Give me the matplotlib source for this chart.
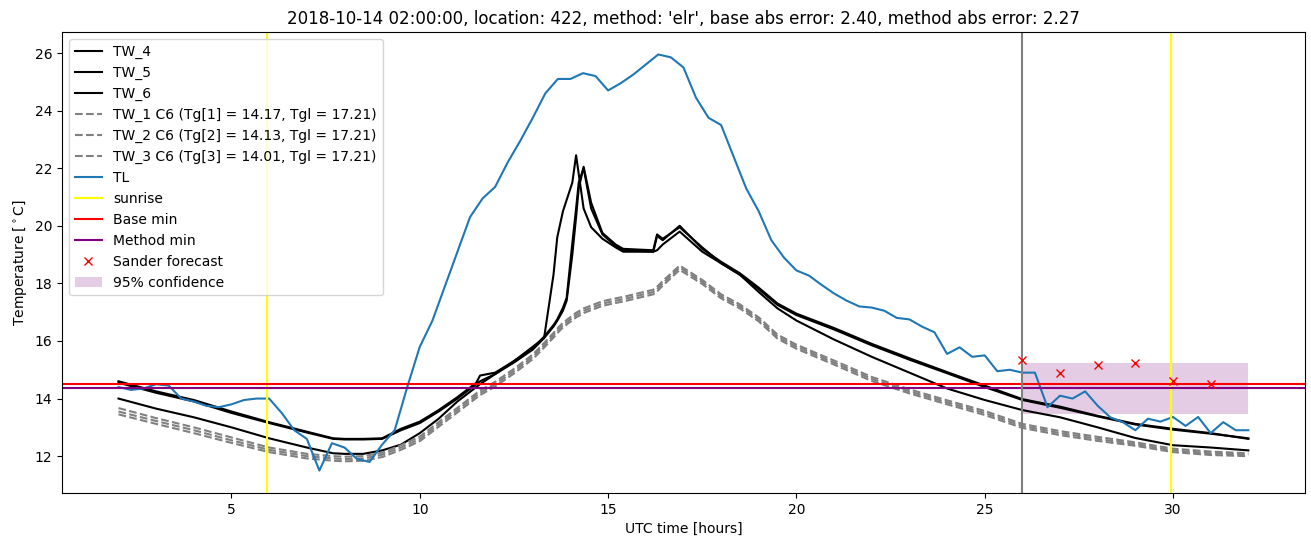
import numpy as np
from matplotlib import pyplot as plt

# TL meting, elke 20 minuten vanaf 02:00
tl_hours = np.arange(2, 32.01, 1 / 3)
tl = [14.4, 14.3, 14.35, 14.5, 14.45, 14.0, 13.9, 13.75, 13.7, 13.8,
      13.95, 14.0, 14.0, 13.5, 12.9, 12.6, 11.5, 12.45, 12.3, 11.9,
      11.8, 12.4, 12.9, 14.4, 15.8, 16.7, 17.9, 19.1, 20.3, 20.95,
      21.35, 22.2, 22.95, 23.75, 24.6, 25.1, 25.1, 25.3, 25.2, 24.7,
      24.95, 25.25, 25.6, 25.95, 25.85, 25.5, 24.45, 23.75, 23.5, 22.4,
      21.3, 20.5, 19.5, 18.9, 18.45, 18.27, 17.95, 17.65, 17.4, 17.2,
      17.16, 17.05, 16.8, 16.75, 16.5, 16.3, 15.55, 15.78, 15.45, 15.5,
      14.95, 15.0, 14.9, 14.9, 13.7, 14.1, 14.0, 14.25, 13.75, 13.35,
      13.18, 12.9, 13.3, 13.2, 13.36, 13.05, 13.36, 12.8, 13.18, 12.9,
      12.9]

# TW series
tw_hours = [2, 3, 4, 5, 6, 7, 7.7, 8, 8.5, 9, 9.5, 10, 10.5, 11, 11.5, 11.6, 12, 12.5,
            13, 13.3, 13.55, 13.65, 13.8, 13.9, 14.05, 14.15, 14.22, 14.35, 14.55, 14.85,
            15.2, 15.4, 16.2, 16.3, 16.45, 16.9, 17.5, 18, 18.5, 19, 19.5, 20,
            21, 22, 23, 24, 25, 26, 27, 28, 29, 30, 31, 32]
tw_4 = [14.6, 14.25, 13.95, 13.55, 13.18, 12.85, 12.62, 12.6, 12.6, 12.62, 12.95, 13.2,
        13.6, 14.05, 14.55, 14.8, 14.9, 15.3, 15.75, 16.15, 16.55, 16.75, 17.15, 17.5,
        19.4, 20.6, 21.5, 22.0, 20.6, 19.7, 19.3, 19.15, 19.1, 19.65, 19.5, 20.0,
        19.2, 18.75, 18.35, 17.85, 17.3, 16.95, 16.45, 15.9, 15.4, 14.92, 14.45, 13.98,
        13.72, 13.4, 13.12, 12.95, 12.8, 12.6]
tw_5 = [14.55, 14.2, 13.9, 13.5, 13.15, 12.82, 12.6, 12.58, 12.58, 12.6, 12.9, 13.15,
        13.55, 14.0, 14.5, 14.6, 14.85, 15.25, 15.7, 16.1, 16.5, 16.7, 17.05, 17.4,
        19.0, 20.3, 21.3, 22.05, 20.8, 19.75, 19.35, 19.2, 19.15, 19.7, 19.55, 19.95,
        19.25, 18.7, 18.3, 17.8, 17.25, 16.9, 16.4, 15.85, 15.35, 14.88, 14.4, 13.95,
        13.68, 13.38, 13.1, 12.92, 12.78, 12.62]
tw_6 = [14.0, 13.65, 13.35, 13.0, 12.62, 12.3, 12.1, 12.08, 12.08, 12.2, 12.4, 12.8,
        13.3, 13.9, 14.4, 14.5, 14.85, 15.3, 15.8, 16.1, 18.3, 19.6, 20.5, 20.9,
        21.5, 22.45, 21.8, 20.6, 19.95, 19.55, 19.25, 19.1, 19.1, 19.15, 19.35, 19.8,
        19.1, 18.7, 18.3, 17.7, 17.13, 16.71, 16.05, 15.45, 14.9, 14.35, 13.95, 13.6,
        13.35, 13.0, 12.63, 12.38, 12.3, 12.2]
tw_1 = [13.67, 13.32, 13.0, 12.65, 12.3, 12.08, 12.0, 11.98, 12.0, 12.12, 12.38, 12.68,
        13.18, 13.68, 14.18, 14.28, 14.58, 15.03, 15.53, 15.93, 16.28, 16.43, 16.63, 16.73,
        16.88, 16.98, 17.03, 17.13, 17.23, 17.38, 17.48, 17.53, 17.78, 17.88, 18.08, 18.62,
        18.12, 17.62, 17.27, 16.82, 16.22, 15.87, 15.32, 14.75, 14.32, 13.94, 13.57, 13.12,
        12.87, 12.67, 12.48, 12.26, 12.16, 12.1]
tw_2 = [13.55, 13.22, 12.9, 12.55, 12.22, 12.0, 11.92, 11.9, 11.92, 12.05, 12.3, 12.6,
        13.1, 13.6, 14.1, 14.2, 14.5, 14.95, 15.45, 15.85, 16.2, 16.35, 16.55, 16.65,
        16.8, 16.9, 16.95, 17.05, 17.15, 17.3, 17.4, 17.45, 17.7, 17.8, 18.0, 18.55,
        18.05, 17.55, 17.2, 16.75, 16.15, 15.8, 15.25, 14.68, 14.25, 13.87, 13.5, 13.05,
        12.8, 12.6, 12.42, 12.2, 12.1, 12.05]
tw_3 = [13.45, 13.12, 12.8, 12.46, 12.14, 11.92, 11.84, 11.82, 11.84, 11.97, 12.22, 12.52,
        13.02, 13.52, 14.02, 14.12, 14.42, 14.87, 15.37, 15.77, 16.12, 16.27, 16.47, 16.57,
        16.72, 16.82, 16.87, 16.97, 17.07, 17.22, 17.32, 17.37, 17.62, 17.72, 17.92, 18.47,
        17.98, 17.48, 17.13, 16.68, 16.08, 15.73, 15.18, 14.61, 14.18, 13.8, 13.43, 12.98,
        12.73, 12.53, 12.36, 12.14, 12.04, 12.0]
tg = [14.17, 14.13, 14.01]
tgl = 17.21

sunrise = [5.95, 29.95]
forecast_start = 26.0
base_min = 14.50
method_min = 14.37

# Sander forecast
sander_hours = [26, 27, 28, 29, 30, 31]
sander = [15.33, 14.9, 15.15, 15.22, 14.6, 14.5]
conf_hours = [26, 32]
conf_low = [13.47, 13.47]
conf_high = [15.23, 15.23]

fig = plt.figure(figsize=(13.11, 5.47), dpi=100)
ax = fig.add_axes([0.0473, 0.0987, 0.948, 0.8428])

ax.plot(tw_hours, tw_4, color='black', label='TW_4')
ax.plot(tw_hours, tw_5, color='black', label='TW_5')
ax.plot(tw_hours, tw_6, color='black', label='TW_6')
for i, series in enumerate([tw_1, tw_2, tw_3]):
    ax.plot(tw_hours, series, '--', color='gray',
            label='TW_%d C6 (Tg[%d] = %.2f, Tgl = %.2f)' % (i + 1, i + 1, tg[i], tgl))
ax.plot(tl_hours, tl, color='tab:blue', label='TL')
ax.axvline(sunrise[0], color='yellow', label='sunrise')
ax.axvline(sunrise[1], color='yellow')
ax.axhline(base_min, color='red', label='Base min')
ax.axhline(method_min, color='purple', label='Method min')
ax.axvline(forecast_start, color='gray')
ax.plot(sander_hours, sander, 'x', color='red', linestyle='none', label='Sander forecast')
ax.fill_between(conf_hours, conf_low, conf_high, color='purple', alpha=0.2,
                linewidth=0, label='95% confidence')

ax.set_xlim(0.5, 33.5)
ax.set_ylim(10.72, 26.73)
ax.set_xlabel('UTC time [hours]')
ax.set_ylabel('Temperature [$^\\circ$C]')
ax.set_title("2018-10-14 02:00:00, location: 422, method: 'elr', "
             "base abs error: 2.40, method abs error: 2.27")
ax.legend(loc='upper left')

fig.savefig('out.png', dpi=100)
